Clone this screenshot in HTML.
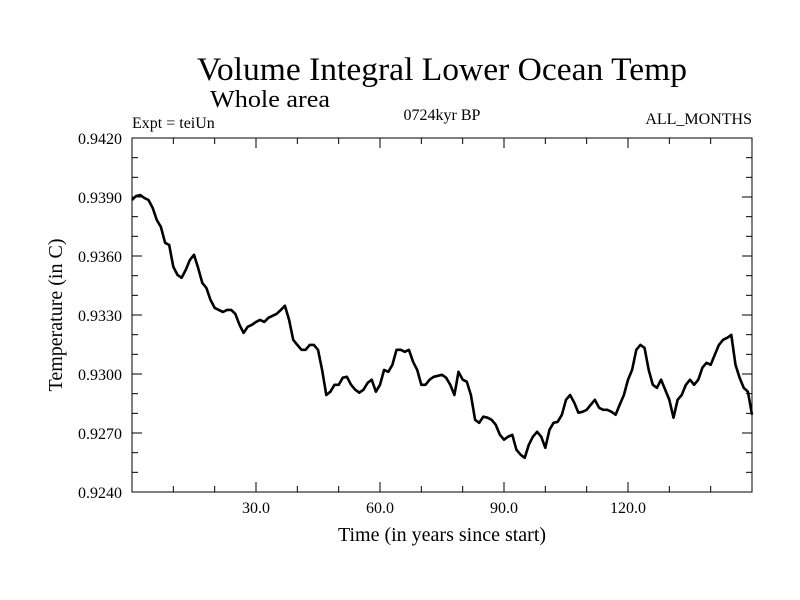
<!DOCTYPE html>
<html><head><meta charset="utf-8"><style>
html,body{margin:0;padding:0;background:#fff;}
svg{display:block;font-family:"Liberation Serif",serif;}
</style></head><body>
<svg id="chart" width="800" height="600" viewBox="0 0 800 600">
<text x="442" y="80" font-size="33" text-anchor="middle" textLength="490" lengthAdjust="spacingAndGlyphs">Volume Integral Lower Ocean Temp</text>
<text x="210" y="107" font-size="24" textLength="120" lengthAdjust="spacingAndGlyphs">Whole area</text>
<text x="132" y="128" font-size="16">Expt = teiUn</text>
<text x="442" y="120" font-size="16" text-anchor="middle">0724kyr BP</text>
<text x="752" y="124" font-size="16" text-anchor="end">ALL_MONTHS</text>
<text x="442" y="541" font-size="20" text-anchor="middle">Time (in years since start)</text>
<text transform="translate(62,315) rotate(-90)" font-size="20" text-anchor="middle">Temperature (in C)</text>
<g id="axes"></g>
<path id="series" fill="none" stroke="#000" stroke-width="2.6" stroke-linejoin="round"></path>
<rect x="132" y="138" width="620" height="354" fill="none" stroke="#000" stroke-width="1"/>
</svg>
<script>
const years = [];
for (let i = 0; i <= 150; i++) years.push(i);
const temps = [0.93885,0.93905,0.93910,0.93895,0.93885,0.93844,0.93783,0.93748,0.93667,0.93656,
0.93545,0.93504,0.93489,0.93529,0.93580,0.93606,0.93540,0.93463,0.93438,0.93377,
0.93336,0.93326,0.93316,0.93326,0.93326,0.93306,0.93250,0.93209,0.93240,0.93250,
0.93265,0.93275,0.93265,0.93286,0.93296,0.93306,0.93326,0.93347,0.93275,0.93174,
0.93148,0.93123,0.93123,0.93148,0.93148,0.93123,0.93021,0.92893,0.92910,0.92945,
0.92945,0.92981,0.92986,0.92945,0.92920,0.92905,0.92920,0.92955,0.92971,0.92910,
0.92945,0.93021,0.93011,0.93047,0.93123,0.93123,0.93113,0.93123,0.93062,0.93021,
0.92945,0.92945,0.92971,0.92986,0.92991,0.92996,0.92981,0.92945,0.92893,0.93011,
0.92971,0.92961,0.92893,0.92767,0.92752,0.92783,0.92778,0.92767,0.92742,0.92691,
0.92666,0.92681,0.92691,0.92615,0.92590,0.92574,0.92640,0.92681,0.92706,0.92681,
0.92625,0.92717,0.92752,0.92757,0.92793,0.92869,0.92893,0.92854,0.92803,0.92808,
0.92818,0.92844,0.92869,0.92828,0.92818,0.92818,0.92808,0.92793,0.92844,0.92893,
0.92971,0.93021,0.93123,0.93148,0.93133,0.93021,0.92945,0.92930,0.92971,0.92920,
0.92869,0.92778,0.92869,0.92893,0.92945,0.92971,0.92945,0.92971,0.93032,0.93057,
0.93047,0.93098,0.93148,0.93174,0.93184,0.93199,0.93047,0.92981,0.92930,0.92910,
0.92793];
const yTicks = [0.924,0.927,0.930,0.933,0.936,0.939,0.942];
const yTickLabels = ["0.9240","0.9270","0.9300","0.9330","0.9360","0.9390","0.9420"];
const xTicks = [30,60,90,120];
const xTickLabels = ["30.0","60.0","90.0","120.0"];

const L=132,R=752,T=138,B=492, X0=0,X1=150, Y0=0.924,Y1=0.942;
const sx = v => L + (v-X0)/(X1-X0)*(R-L);
const sy = v => B - (v-Y0)/(Y1-Y0)*(B-T);
const NS="http://www.w3.org/2000/svg";
const axes=document.getElementById('axes');
function line(x1,y1,x2,y2){const l=document.createElementNS(NS,'line');l.setAttribute('x1',x1);l.setAttribute('y1',y1);l.setAttribute('x2',x2);l.setAttribute('y2',y2);l.setAttribute('stroke','#000');l.setAttribute('stroke-width','1');axes.appendChild(l);return l;}
function text(x,y,s,anchor){const t=document.createElementNS(NS,'text');t.setAttribute('x',x);t.setAttribute('y',y);t.setAttribute('font-size','16');t.setAttribute('text-anchor',anchor);t.textContent=s;axes.appendChild(t);return t;}
for(let k=0;k<=18;k++){const v=Y0+k*0.001;const y=sy(v);const major=k%3===0;const len=major?10:6;
 const a=line(L,y,L+len,y);
 
 
 const b=line(R,y,R-len,y);
 
 }
yTicks.forEach((v,i)=>{const t=text(122,sy(v)+6,yTickLabels[i],'end');
 
 });
for(let v=10;v<150;v+=10){const x=sx(v);const major=v%30===0;const len=major?10:6;
 const a=line(x,B,x,B-len);
 
 
 const b=line(x,T,x,T+len);
 
 }
xTicks.forEach((v,i)=>{const t=text(sx(v),513,xTickLabels[i],'middle');
 
 });
let d='';
years.forEach((yr,i)=>{d+=(i?'L':'M')+sx(yr).toFixed(1)+','+sy(temps[i]).toFixed(1);});
document.getElementById('series').setAttribute('d',d);
</script>
</body></html>
